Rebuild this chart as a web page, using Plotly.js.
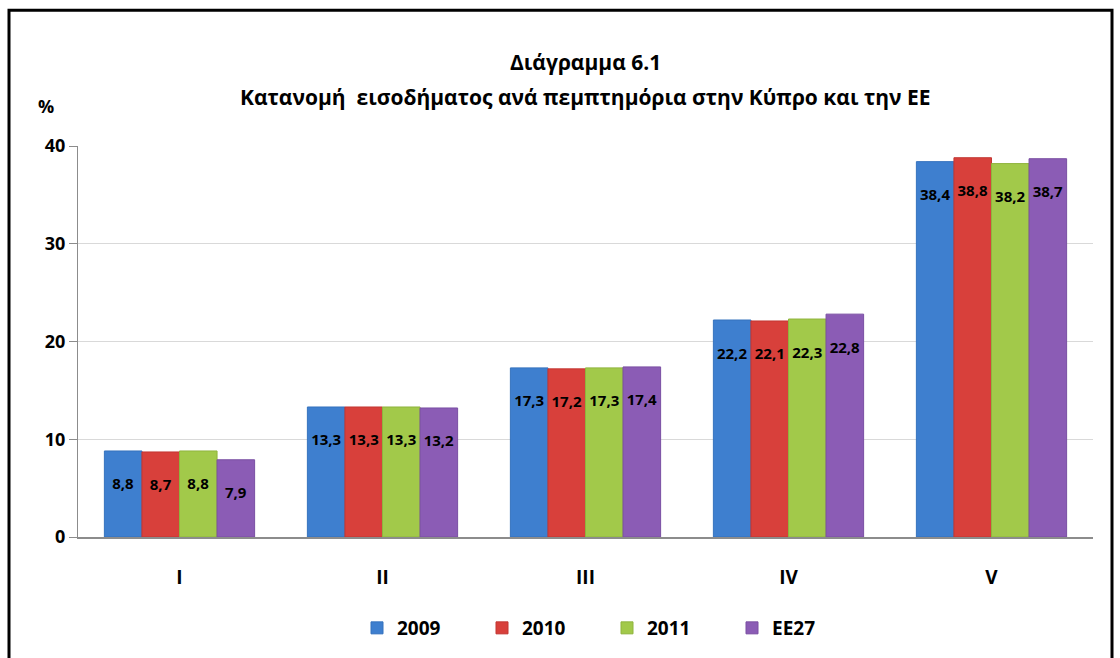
<!DOCTYPE html>
<html><head><meta charset="utf-8">
<script src="https://cdn.plot.ly/plotly-3.0.1.min.js"></script>
<style>body{margin:0;background:#fff}#c{width:1120px;height:658px}</style>
</head><body><div id="c"></div>
<script>
const categories = ["I","II","III","IV","V"];
const s2009 = [8.8,13.3,17.3,22.2,38.4];
const s2010 = [8.7,13.3,17.2,22.1,38.8];
const s2011 = [8.8,13.3,17.3,22.3,38.2];
const sEE27 = [7.9,13.2,17.4,22.8,38.7];
const seriesNames = ["2009","2010","2011","EE27"];
const titleLines = ["Διάγραμμα 6.1","Κατανομή  εισοδήματος ανά πεμπτημόρια στην Κύπρο και την ΕΕ"];
const colors = ["#3e7fcf","#d8403b","#a2c94a","#8b5cb5"];
const lines = ["#3572bd","#c23632","#8fb43d","#7a4fa3"];
const FONT = '"Liberation Sans Narrow", "Open Sans", "Noto Sans", sans-serif';
const fmt = v => v.toFixed(1).replace('.', ',');
const all = [s2009,s2010,s2011,sEE27];
const traces = all.map((vals,i)=>({
  type:'bar', x:categories, y:vals, name:seriesNames[i],
  marker:{color:colors[i], line:{color:lines[i], width:1}},
  text: vals.map(v=>' <br>'+fmt(v)), textposition:'inside', insidetextanchor:'end',
  textangle:0, constraintext:'none',
  textfont:{family:FONT, size:15, color:'#000', weight:'bold'},
  hoverinfo:'none'
}));
const W=1015, H=392, L=78, B=120;
const px = x => (x-L)/W, py = y => (658-B-y)/H;
const layout = {
  width:1120, height:658, paper_bgcolor:'#fff', plot_bgcolor:'#fff',
  margin:{l:L, r:27, t:146, b:B},
  barmode:'group', bargap:0.26, bargroupgap:0,
  font:{family:FONT, color:'#000'},
  xaxis:{type:'category', showline:true, linecolor:'#8c8c8c', linewidth:2, ticks:'',
    tickfont:{size:19, family:FONT, weight:'bold'}, ticklabelstandoff:22},
  yaxis:{range:[0,40], dtick:10, showgrid:true, gridcolor:'#d9d9d9', gridwidth:1,
    showline:true, linecolor:'#8c8c8c', linewidth:1, ticks:'outside', ticklen:8, tickcolor:'#8c8c8c',
    tickfont:{size:18, family:FONT, weight:'bold'}, zeroline:false},
  showlegend:true,
  legend:{orientation:'h', x:px(607), xanchor:'center', y:py(628), yanchor:'middle',
    font:{size:19, family:FONT, weight:'bold'}, itemwidth:30, traceorder:'normal', entrywidth:80},
  annotations:[
    {text:'<b>%</b>', xref:'paper', yref:'paper', x:px(46), y:py(106), xanchor:'center', yanchor:'middle',
     showarrow:false, font:{size:18, family:FONT}},
    {text:'<b>'+titleLines[0]+'</b>', xref:'paper', yref:'paper', x:px(585), y:py(62), xanchor:'center', yanchor:'middle',
     showarrow:false, font:{size:21, family:FONT}},
    {text:'<b>'+titleLines[1]+'</b>', xref:'paper', yref:'paper', x:px(585), y:py(97), xanchor:'center', yanchor:'middle',
     showarrow:false, font:{size:21, family:FONT}}
  ],
  shapes:[{type:'rect', xref:'paper', yref:'paper', x0:px(9), x1:px(1112), y0:py(662), y1:py(10),
    line:{color:'#000', width:3}, fillcolor:'rgba(0,0,0,0)'}]
};
Plotly.newPlot('c', traces, layout, {displayModeBar:false});
</script></body></html>
